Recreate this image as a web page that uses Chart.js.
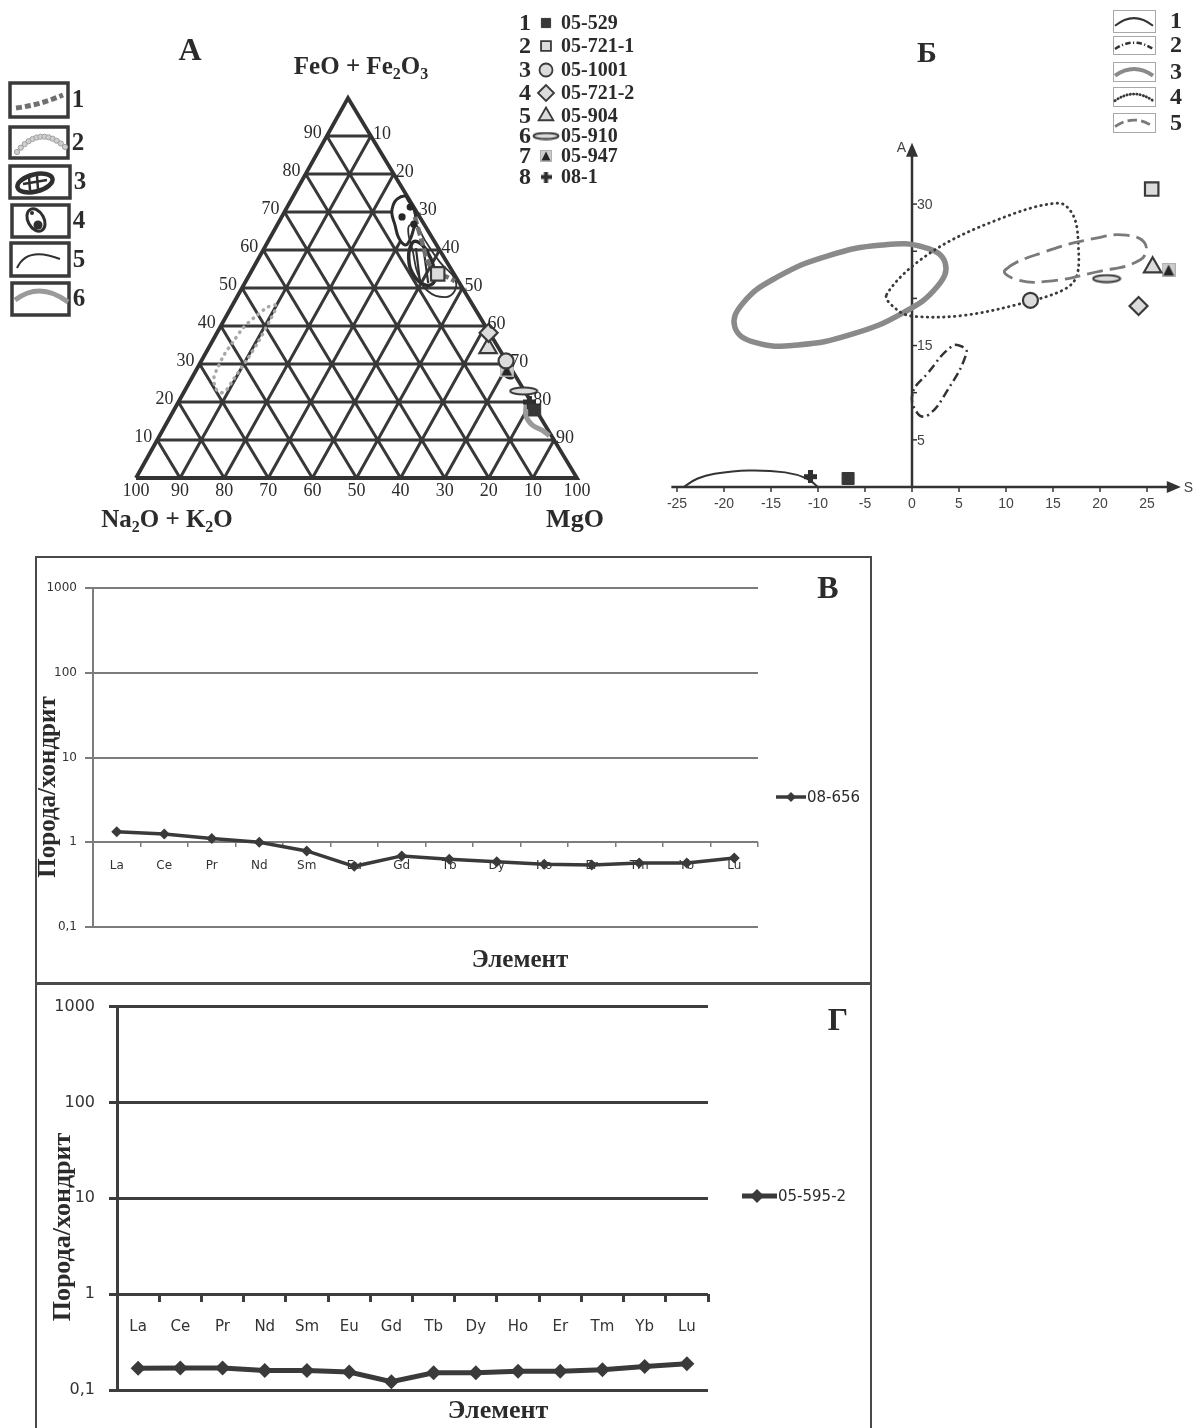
<!DOCTYPE html>
<html lang="ru">
<head>
<meta charset="utf-8">
<title>Диаграммы состава пород</title>
<script src="https://cdn.jsdelivr.net/npm/chart.js@4.4.1/dist/chart.umd.min.js"></script>
<style>
  html, body { margin: 0; padding: 0; background: #fff; }
  #sheet { position: relative; width: 1195px; height: 1428px; overflow: hidden; background: #fff; }
  .cell { position: absolute; }
  .cell canvas { display: block; }
  .frame { position: absolute; box-sizing: border-box; border: 2px solid #4a4a4a; }
</style>
</head>
<body>
<div id="sheet">
  <div class="frame" style="left:35px; top:556px; width:837px; height:429px;"></div>
  <div class="frame" style="left:35px; top:982px; width:837px; height:470px; border-top-width:3px;"></div>
  <div class="cell" style="left:0; top:0;"><canvas id="ternary" width="660" height="545"></canvas></div>
  <div class="cell" style="left:660px; top:0;"><canvas id="saPlot" width="535" height="545"></canvas></div>
  <div class="cell" style="left:36px; top:557px;"><canvas id="reeB" width="834" height="426"></canvas></div>
  <div class="cell" style="left:36px; top:983px;"><canvas id="reeG" width="834" height="445"></canvas></div>
</div>
<script>
// ---- образцы ----
const sampleNames = ['05-529', '05-721-1', '05-1001', '05-721-2', '05-904', '05-910', '05-947', '08-1'];
// А: FeO + Fe2O3 и MgO, % (остальное Na2O + K2O)
const feoTotal = [17.9, 53.7, 30.8, 38.2, 34.2, 22.9, 28.4, 20.0];
const mgoPct = [81.8, 42.6, 69.1, 61.6, 63.4, 76.9, 70.4, 79.6];
// Б: S и A
const sValues = [-6.8, 25.5, 12.6, 24.1, 25.6, 20.7, 27.3, -10.8];
const aValues = [0.9, 31.6, 19.8, 19.2, 23.3, 22.1, 23.0, 1.1];

// поля на треугольнике, пары [FeO+Fe2O3, MgO]
const fieldA1 = [[68.7, 30.2], [62.1, 35.0], [56.8, 38.9], [54.2, 41.9], [52.9, 45.1], [51.8, 47.4]];
const fieldA2 = [[45.5, 9.7], [45.0, 8.3], [42.4, 6.6], [39.5, 5.3], [35.8, 4.8], [32.4, 4.4], [28.7, 4.6], [26.6, 4.9],
  [23.7, 6.6], [22.4, 8.5], [23.4, 9.4], [25.8, 9.6], [31.1, 10.2], [35.8, 10.5], [41.6, 10.4], [44.2, 10.3]];
const fieldA3 = [[61.8, 32.9], [57.9, 34.0], [53.4, 37.3], [50.8, 41.1], [51.6, 42.8], [55.3, 41.0], [60.0, 37.0], [62.1, 34.1]];
const fieldA3Inner1 = [[60.5, 34.4], [52.1, 39.3]];
const fieldA3Inner2 = [[59.5, 36.7], [51.3, 41.6]];
const fieldA3Arc = [[30.3, 68.0], [27.1, 70.6], [26.3, 72.6], [27.1, 72.6]];
const fieldA4 = [[71.8, 23.8], [73.4, 23.9], [74.2, 25.3], [73.2, 26.5], [70.5, 29.2], [67.9, 30.8], [65.3, 31.5],
  [62.6, 32.0], [61.3, 31.6], [63.2, 29.2], [66.6, 26.7], [69.7, 24.5]];
const fieldA4Dots = [[68.7, 27.3], [71.3, 27.9], [66.8, 30.9]];
const fieldA5 = [[65.8, 30.1], [59.5, 34.2], [53.7, 38.1], [49.2, 42.5], [47.6, 47.2], [49.2, 48.6], [52.4, 47.1],
  [56.8, 41.6], [62.6, 35.4], [66.8, 31.2]];
const fieldA6 = [[19.5, 79.1], [16.3, 80.6], [13.9, 83.2], [12.6, 86.0], [11.1, 88.4]];

// поля на диаграмме S–A, пары [S, A]
const fieldB1 = [[-24.3, 0], [-22.8, 0.9], [-21.0, 1.4], [-17.4, 1.75], [-13.5, 1.55], [-11.2, 0.9], [-10.0, 0]];
const fieldB2 = [[0.05, 9.9], [0.6, 7.8], [1.7, 7.6], [3.8, 10.3], [5.8, 14.2], [5.3, 14.9], [4.2, 14.9], [1.7, 12.1]];
const fieldB3 = [[3.53, 23.76], [2.67, 21.23], [-0.96, 18.47], [-6.38, 16.2], [-12.15, 15.06], [-16.71, 15.33],
  [-18.85, 16.96], [-17.99, 19.49], [-14.36, 22.25], [-8.94, 24.52], [-3.17, 25.66], [1.39, 25.39]];
const fieldB4 = [[-2.7, 20.4], [1.9, 24.8], [9.0, 28.3], [15.6, 30.1], [17.2, 28.7], [17.7, 25.5], [17.5, 22.3],
  [16.1, 20.9], [11.8, 19.5], [5.5, 18.2], [0.1, 18.1], [-1.6, 18.8]];
const fieldB5 = [[9.9, 23.0], [14.3, 25.0], [19.6, 26.4], [22.8, 26.7], [24.8, 25.8], [24.3, 24.1], [19.6, 22.8],
  [14.3, 21.8], [11.1, 22.0]];

// шкалы
const ternaryTicks = [10, 20, 30, 40, 50, 60, 70, 80, 90];
const baseMgo = [0, 10, 20, 30, 40, 50, 60, 70, 80, 90, 100];
const baseLabels = [100, 90, 80, 70, 60, 50, 40, 30, 20, 10, 100];
const sTicks = [-25, -20, -15, -10, -5, 0, 5, 10, 15, 20, 25];
const aTicks = [5, 10, 15, 20, 25, 30];
const aTickLabels = [5, 15, 30];
const sAxisRange = [-25.6, 28.6];
const aAxisTop = 36.5;

// РЗЭ, нормированные на хондрит
const elements = ['La', 'Ce', 'Pr', 'Nd', 'Sm', 'Eu', 'Gd', 'Tb', 'Dy', 'Ho', 'Er', 'Tm', 'Yb', 'Lu'];
const ree08656 = [1.33, 1.25, 1.11, 1.0, 0.79, 0.52, 0.69, 0.63, 0.59, 0.55, 0.54, 0.57, 0.57, 0.65];
const ree055952 = [0.169, 0.17, 0.17, 0.16, 0.16, 0.154, 0.122, 0.151, 0.151, 0.157, 0.157, 0.163, 0.176, 0.188];
const logTicks = [0.1, 1, 10, 100, 1000];

const SERIF = '"Liberation Serif", "Times New Roman", serif';
const SANS = '"Liberation Sans", Arial, sans-serif';
const WIDE = '"DejaVu Sans", sans-serif';
const INK = '#2b2b2b';
const LINE = '#3a3a3a';
const FILL = '#dcdcdc';

// ---- значки образцов ----
function makeMark(w, h, paint) {
  const c = document.createElement('canvas');
  c.width = w; c.height = h;
  paint(c.getContext('2d'), w, h);
  return c;
}
const oval = (w, h) => makeMark(w, h, g => {
  g.beginPath();
  g.ellipse(w / 2, h / 2, w / 2 - 1.5, h / 2 - 1.5, 0, 0, Math.PI * 2);
  g.fillStyle = FILL; g.fill();
  g.lineWidth = 2; g.strokeStyle = LINE; g.stroke();
});
const boxedTriangle = s => makeMark(s, s, g => {
  g.fillStyle = '#cdcdcd'; g.fillRect(0, 0, s, s);
  g.strokeStyle = '#b0b0b0'; g.lineWidth = 1; g.strokeRect(0.5, 0.5, s - 1, s - 1);
  g.beginPath(); g.moveTo(s / 2, 1.5); g.lineTo(s - 1.5, s - 1.5); g.lineTo(1.5, s - 1.5); g.closePath();
  g.fillStyle = '#262626'; g.fill();
});
const plus = s => makeMark(s, s, g => {
  const t = Math.round(s * 0.4), o = (s - t) / 2;
  g.fillStyle = '#2f2f2f';
  g.fillRect(o, 0, t, s); g.fillRect(0, o, s, t);
});

const hollow = { pointBackgroundColor: FILL, pointBorderColor: LINE, pointBorderWidth: 2.2 };
const plotMarks = [
  { pointStyle: 'rect', pointRadius: 8.5, pointBackgroundColor: '#383838', pointBorderColor: '#383838', pointBorderWidth: 1 },
  { pointStyle: 'rect', pointRadius: 9.5, ...hollow },
  { pointStyle: 'circle', pointRadius: 7.5, ...hollow },
  { pointStyle: 'rectRot', pointRadius: 9, ...hollow },
  { pointStyle: 'triangle', pointRadius: 10, ...hollow },
  { pointStyle: oval(30, 10), pointRadius: 5 },
  { pointStyle: boxedTriangle(14), pointRadius: 5 },
  { pointStyle: plus(13), pointRadius: 5 }
];
const keyMarks = [
  { pointStyle: 'rect', pointRadius: 6.5, pointBackgroundColor: '#383838', pointBorderColor: '#383838', pointBorderWidth: 1 },
  { pointStyle: 'rect', pointRadius: 7, ...hollow, pointBorderWidth: 1.8 },
  { pointStyle: 'circle', pointRadius: 6.5, ...hollow, pointBorderWidth: 1.8 },
  { pointStyle: 'rectRot', pointRadius: 8, ...hollow, pointBorderWidth: 1.8 },
  { pointStyle: 'triangle', pointRadius: 8.5, ...hollow, pointBorderWidth: 1.8 },
  { pointStyle: oval(28, 9), pointRadius: 5 },
  { pointStyle: boxedTriangle(12), pointRadius: 5 },
  { pointStyle: plus(11), pointRadius: 5 }
];

function drawMark(ctx, m, x, y) {
  ctx.fillStyle = m.pointBackgroundColor || '#000';
  ctx.strokeStyle = m.pointBorderColor || '#000';
  ctx.lineWidth = m.pointBorderWidth || 1;
  Chart.helpers.drawPoint(ctx, { pointStyle: m.pointStyle, radius: m.pointRadius, rotation: 0, borderWidth: m.pointBorderWidth || 0 }, x, y);
}

// ---- линии полей ----
function wrapLoop(pts) {
  const n = pts.length;
  return [pts[n - 1], ...pts, pts[0], pts[1]];
}
function pathSet(label, pts, look, closed) {
  const data = closed ? wrapLoop(pts) : pts;
  const last = data.length - 2;
  const ds = {
    label, data, showLine: true, pointRadius: 0, tension: look.tension ?? 0.45,
    borderColor: look.color, borderWidth: look.width, borderDash: look.dash || [],
    borderCapStyle: look.cap || 'butt', borderJoinStyle: 'round',
    fill: look.fill ? 'shape' : false, backgroundColor: look.fill || 'rgba(0,0,0,0)'
  };
  if (closed) {
    // крайние отрезки нужны только для гладкого замыкания
    ds.segment = { borderColor: c => (c.p0DataIndex === 0 || c.p0DataIndex === last) ? 'rgba(0,0,0,0)' : undefined };
  }
  return ds;
}

const baseOptions = {
  responsive: false, animation: false, devicePixelRatio: 1, events: [],
  layout: { padding: 0, autoPadding: false },
  plugins: { legend: { display: false }, tooltip: { enabled: false } }
};

// ================= А: треугольник =================
// нижний левый угол (136, 478), правый — 577, вершина смещена к x = 348
const TRI = { left: 136, base: 478, side: 441, height: 380, apex: 348, w: 660, h: 545 };
const skew = (TRI.apex - TRI.left) / TRI.side;
const toTern = ([fe, mg]) => ({ x: mg + fe * skew, y: fe });
const gap = { x: NaN, y: NaN };

const gridA = [];
ternaryTicks.forEach(k => {
  gridA.push(toTern([k, 0]), toTern([k, 100 - k]), gap);
  gridA.push(toTern([0, k]), toTern([100 - k, k]), gap);
  gridA.push(toTern([0, 100 - k]), toTern([100 - k, 0]), gap);
});
const frameA = [toTern([0, 0]), toTern([0, 100]), toTern([100, 0]), toTern([0, 0])];

function drawRich(ctx, parts, cx, baseY, size) {
  const main = `bold ${size}px ${SERIF}`, sub = `bold ${Math.round(size * 0.62)}px ${SERIF}`;
  let total = 0;
  parts.forEach(([t, s]) => { ctx.font = s ? sub : main; total += ctx.measureText(t).width; });
  let xx = cx - total / 2;
  ctx.textAlign = 'left'; ctx.textBaseline = 'alphabetic';
  parts.forEach(([t, s]) => {
    ctx.font = s ? sub : main;
    ctx.fillText(t, xx, baseY + (s ? size * 0.2 : 0));
    xx += ctx.measureText(t).width;
  });
}

const ternaryDecor = {
  id: 'ternaryDecor',
  afterDraw(chart) {
    const { ctx, scales: { x, y } } = chart;
    const at = p => [x.getPixelForValue(p.x), y.getPixelForValue(p.y)];
    ctx.save();
    ctx.fillStyle = INK;
    ctx.font = `18px ${SERIF}`;
    ctx.textBaseline = 'middle';
    ternaryTicks.forEach(k => {
      let [lx, ly] = at(toTern([k, 0]));
      ctx.textAlign = 'right';
      ctx.fillText(String(k), lx - 5, ly - 3);
      [lx, ly] = at(toTern([100 - k, k]));
      ctx.textAlign = 'left';
      ctx.fillText(String(k), lx + 2, ly - 2);
    });
    ctx.textAlign = 'center';
    baseMgo.forEach((m, i) => {
      const [lx, ly] = at(toTern([0, m]));
      ctx.fillText(String(baseLabels[i]), lx, ly + 13);
    });

    ctx.fillStyle = INK;
    ctx.font = `bold 32px ${SERIF}`; ctx.textAlign = 'center'; ctx.textBaseline = 'alphabetic';
    ctx.fillText('А', 190, 60);
    drawRich(ctx, [['FeO + Fe', 0], ['2', 1], ['O', 0], ['3', 1]], 361, 74, 25);
    drawRich(ctx, [['Na', 0], ['2', 1], ['O + K', 0], ['2', 1], ['O', 0]], 167, 527, 25);
    drawRich(ctx, [['MgO', 0]], 575, 527, 26);

    // образцы
    const rows = [23, 46, 70, 93, 116, 136, 156, 177];
    sampleNames.forEach((name, i) => {
      const yy = rows[i];
      ctx.fillStyle = INK; ctx.textBaseline = 'middle';
      ctx.font = `bold 24px ${SERIF}`; ctx.textAlign = 'center';
      ctx.fillText(String(i + 1), 525, yy + 1);
      drawMark(ctx, keyMarks[i], 546, yy);
      ctx.fillStyle = INK;
      ctx.font = `bold 20px ${SERIF}`; ctx.textAlign = 'left';
      ctx.fillText(name, 561, yy + 1);
    });

    // условные обозначения полей
    const boxes = [[10, 83, 58, 34], [10, 127, 58, 31], [10, 166, 60, 32], [12, 205, 57, 32], [11, 243, 58, 33], [12, 283, 57, 32]];
    ctx.lineWidth = 3.5; ctx.strokeStyle = '#3a3a3a';
    boxes.forEach(([bx, by, bw, bh], i) => {
      ctx.strokeRect(bx, by, bw, bh);
      ctx.fillStyle = INK; ctx.font = `bold 25px ${SERIF}`; ctx.textAlign = 'center'; ctx.textBaseline = 'middle';
      ctx.fillText(String(i + 1), bx + bw + 10, by + bh / 2 + 1);
    });
    ctx.lineCap = 'butt';
    ctx.setLineDash([6, 3]); ctx.lineWidth = 5; ctx.strokeStyle = '#707070';
    ctx.beginPath(); ctx.moveTo(16, 108); ctx.quadraticCurveTo(40, 105, 63, 95); ctx.stroke();
    ctx.setLineDash([]);
    for (let i = 0; i <= 12; i++) {
      const t = i / 12, u = 1 - t;
      const cx = u * u * 17 + 2 * u * t * 40 + t * t * 65;
      const cy = u * u * 152 + 2 * u * t * 124 + t * t * 147;
      ctx.beginPath(); ctx.arc(cx, cy, 2.6, 0, Math.PI * 2);
      ctx.fillStyle = '#cfcfcf'; ctx.fill(); ctx.lineWidth = 1; ctx.strokeStyle = '#a0a0a0'; ctx.stroke();
    }
    ctx.strokeStyle = '#2f2f2f';
    ctx.lineWidth = 4.5;
    ctx.beginPath(); ctx.ellipse(35, 183, 18, 8.5, -0.25, 0, Math.PI * 2); ctx.stroke();
    ctx.lineWidth = 2.5;
    ctx.beginPath();
    ctx.moveTo(29, 177); ctx.lineTo(30, 190); ctx.moveTo(37, 176); ctx.lineTo(38, 189); ctx.moveTo(23, 184); ctx.lineTo(47, 180);
    ctx.stroke();
    ctx.lineWidth = 3;
    ctx.beginPath(); ctx.ellipse(36, 220, 8, 12, -0.5, 0, Math.PI * 2); ctx.stroke();
    ctx.fillStyle = '#2f2f2f';
    ctx.beginPath(); ctx.arc(38, 225, 4.5, 0, Math.PI * 2); ctx.fill();
    ctx.beginPath(); ctx.arc(32, 213, 2, 0, Math.PI * 2); ctx.fill();
    ctx.lineWidth = 2;
    ctx.beginPath(); ctx.moveTo(17, 268); ctx.quadraticCurveTo(27, 246, 60, 259); ctx.stroke();
    ctx.lineWidth = 5; ctx.strokeStyle = '#9a9a9a';
    ctx.beginPath(); ctx.moveTo(15, 300); ctx.quadraticCurveTo(40, 281, 68, 302); ctx.stroke();
    ctx.restore();
  }
};

const samplesA = sampleNames.map((name, i) => ({
  label: name, data: [toTern([feoTotal[i], mgoPct[i]])], ...plotMarks[i]
}));

new Chart(document.getElementById('ternary'), {
  type: 'scatter',
  data: {
    datasets: [
      ...samplesA,
      { label: 'поле 4, точки', data: fieldA4Dots.map(toTern), pointRadius: 3.6, pointBackgroundColor: '#262626', pointBorderWidth: 0 },
      pathSet('поле 2', fieldA2.map(toTern), { color: '#a8a8a8', width: 3.5, dash: [0.5, 6], cap: 'round', tension: 0.3 }, true),
      pathSet('поле 1', fieldA1.map(toTern), { color: '#6f6f6f', width: 4.5, dash: [8, 3], tension: 0.3 }, false),
      pathSet('поле 3, дуга', fieldA3Arc.map(toTern), { color: '#303030', width: 3, tension: 0.4 }, false),
      pathSet('поле 3, штрих', fieldA3Inner1.map(toTern), { color: '#303030', width: 2.2, tension: 0 }, false),
      pathSet('поле 3, штрих 2', fieldA3Inner2.map(toTern), { color: '#303030', width: 2.2, tension: 0 }, false),
      pathSet('поле 3', fieldA3.map(toTern), { color: '#2c2c2c', width: 3.5 }, true),
      pathSet('поле 5', fieldA5.map(toTern), { color: '#333', width: 1.8 }, true),
      pathSet('поле 6', fieldA6.map(toTern), { color: '#9a9a9a', width: 5, tension: 0.4 }, false),
      pathSet('поле 4', fieldA4.map(toTern), { color: '#2c2c2c', width: 3, fill: '#ffffff' }, true),
      { label: 'рамка', data: frameA, showLine: true, pointRadius: 0, tension: 0, borderColor: '#333', borderWidth: 3.8, borderJoinStyle: 'miter' },
      { label: 'сетка', data: gridA, showLine: true, pointRadius: 0, tension: 0, borderColor: '#383838', borderWidth: 3 }
    ]
  },
  options: {
    ...baseOptions,
    scales: {
      x: { type: 'linear', display: false, min: -TRI.left / TRI.side * 100, max: (TRI.w - TRI.left) / TRI.side * 100 },
      y: { type: 'linear', display: false, min: -(TRI.h - TRI.base) / TRI.height * 100, max: TRI.base / TRI.height * 100 }
    }
  },
  plugins: [ternaryDecor]
});

// ================= Б: S–A =================
const SA = { zeroX: 252, zeroY: 487, perS: 9.4, perA: 9.43, w: 535, h: 545 };
const fieldLookB = [
  { color: '#333', width: 2 },
  { color: '#333', width: 2.5, dash: [9, 4, 2, 4] },
  { color: '#8a8a8a', width: 5.5 },
  { color: '#3a3a3a', width: 2.8, dash: [0.5, 5], cap: 'round' },
  { color: '#7a7a7a', width: 2.8, dash: [16, 7] }
];
const toSA = ([s, a]) => ({ x: s, y: a });

const saDecor = {
  id: 'saDecor',
  beforeDatasetsDraw(chart) {
    const { ctx, scales: { x, y } } = chart;
    const x0 = x.getPixelForValue(0), y0 = y.getPixelForValue(0);
    const xs = x.getPixelForValue(sAxisRange[0]), xe = x.getPixelForValue(sAxisRange[1]);
    const ye = y.getPixelForValue(aAxisTop);
    ctx.save();
    ctx.strokeStyle = '#333'; ctx.fillStyle = '#333'; ctx.lineWidth = 2.5;
    ctx.beginPath();
    ctx.moveTo(xs, y0); ctx.lineTo(xe - 8, y0);
    ctx.moveTo(x0, y0); ctx.lineTo(x0, ye + 8);
    ctx.stroke();
    ctx.beginPath(); ctx.moveTo(xe, y0); ctx.lineTo(xe - 14, y0 - 6); ctx.lineTo(xe - 14, y0 + 6); ctx.closePath(); ctx.fill();
    ctx.beginPath(); ctx.moveTo(x0, ye); ctx.lineTo(x0 - 6, ye + 14); ctx.lineTo(x0 + 6, ye + 14); ctx.closePath(); ctx.fill();
    ctx.lineWidth = 1.5;
    ctx.fillStyle = '#444';
    ctx.font = `14px ${SANS}`;
    ctx.textAlign = 'center'; ctx.textBaseline = 'top';
    sTicks.forEach(v => {
      const p = x.getPixelForValue(v);
      ctx.beginPath(); ctx.moveTo(p, y0); ctx.lineTo(p, y0 + 5); ctx.stroke();
      ctx.fillText(String(v), p, y0 + 10);
    });
    aTicks.forEach(v => {
      const p = y.getPixelForValue(v);
      ctx.beginPath(); ctx.moveTo(x0, p); ctx.lineTo(x0 + 5, p); ctx.stroke();
    });
    ctx.textAlign = 'left'; ctx.textBaseline = 'middle';
    aTickLabels.forEach(v => ctx.fillText(String(v), x0 + 5, y.getPixelForValue(v) + 1));
    ctx.fillText('S', xe + 3, y0 + 1);
    ctx.textAlign = 'right';
    ctx.fillText('A', x0 - 6, ye + 5);
    ctx.restore();
  },
  afterDraw(chart) {
    const { ctx } = chart;
    ctx.save();
    ctx.fillStyle = INK;
    ctx.font = `bold 30px ${SERIF}`; ctx.textAlign = 'center'; ctx.textBaseline = 'alphabetic';
    ctx.fillText('Б', 267, 62);
    const rows = [[10, 22], [36, 18], [62, 19], [87, 19], [113, 19]];
    rows.forEach(([by, bh], i) => {
      const bx = 453, bw = 42, look = fieldLookB[i];
      ctx.setLineDash([]); ctx.lineWidth = 1; ctx.strokeStyle = '#a8a8a8';
      ctx.strokeRect(bx + 0.5, by + 0.5, bw, bh);
      ctx.strokeStyle = look.color; ctx.lineWidth = Math.min(look.width, 4);
      ctx.setLineDash(look.dash ? look.dash.map(d => d * 0.6) : []);
      ctx.lineCap = look.cap || 'butt';
      ctx.beginPath();
      ctx.moveTo(bx + 2, by + bh * 0.72);
      ctx.quadraticCurveTo(bx + bw / 2, by + bh * 0.02, bx + bw - 2, by + bh * 0.72);
      ctx.stroke();
      ctx.setLineDash([]);
      ctx.fillStyle = INK; ctx.font = `bold 24px ${SERIF}`; ctx.textAlign = 'center'; ctx.textBaseline = 'middle';
      ctx.fillText(String(i + 1), 516, by + bh / 2 + 1);
    });
    ctx.restore();
  }
};

const samplesB = sampleNames.map((name, i) => ({
  label: name, data: [{ x: sValues[i], y: aValues[i] }], ...plotMarks[i]
}));

new Chart(document.getElementById('saPlot'), {
  type: 'scatter',
  data: {
    datasets: [
      ...samplesB,
      pathSet('поле 1', fieldB1.map(toSA), { ...fieldLookB[0], tension: 0.4 }, false),
      pathSet('поле 2', fieldB2.map(toSA), fieldLookB[1], true),
      pathSet('поле 5', fieldB5.map(toSA), fieldLookB[4], true),
      pathSet('поле 4', fieldB4.map(toSA), { ...fieldLookB[3], tension: 0.35 }, true),
      pathSet('поле 3', fieldB3.map(toSA), fieldLookB[2], true)
    ]
  },
  options: {
    ...baseOptions,
    scales: {
      x: { type: 'linear', display: false, min: -SA.zeroX / SA.perS, max: (SA.w - SA.zeroX) / SA.perS },
      y: { type: 'linear', display: false, min: -(SA.h - SA.zeroY) / SA.perA, max: SA.zeroY / SA.perA }
    }
  },
  plugins: [saDecor]
});

// ================= В, Г: спектры РЗЭ =================
function reeDecor(look) {
  return {
    id: 'reeDecor',
    afterDraw(chart) {
      const { ctx } = chart;
      const ds = chart.data.datasets[0];
      ctx.save();
      ctx.fillStyle = INK;
      ctx.font = `bold ${look.titleSize}px ${SERIF}`;
      ctx.textAlign = 'center'; ctx.textBaseline = 'middle';
      ctx.save();
      ctx.translate(look.yTitle[0], look.yTitle[1]);
      ctx.rotate(-Math.PI / 2);
      ctx.fillText('Порода/хондрит', 0, 0);
      ctx.restore();
      ctx.fillText('Элемент', look.xTitle[0], look.xTitle[1]);
      ctx.font = `bold 32px ${SERIF}`;
      ctx.fillText(look.letter, look.letterAt[0], look.letterAt[1]);

      const k = look.key;
      ctx.strokeStyle = ds.borderColor; ctx.lineWidth = ds.borderWidth;
      ctx.beginPath(); ctx.moveTo(k.x1, k.y); ctx.lineTo(k.x2, k.y); ctx.stroke();
      ctx.fillStyle = ds.pointBackgroundColor;
      Chart.helpers.drawPoint(ctx, { pointStyle: 'rectRot', radius: k.r, rotation: 0, borderWidth: 0 }, k.xm, k.y);
      ctx.fillStyle = INK;
      ctx.font = `${k.font}px ${WIDE}`; ctx.textAlign = 'left';
      ctx.fillText(ds.label, k.xt, k.y + 1);
      ctx.restore();
    }
  };
}

function reeChart(id, series, label, look) {
  return new Chart(document.getElementById(id), {
    type: 'line',
    data: {
      labels: elements,
      datasets: [{
        label, data: series, borderColor: LINE, borderWidth: look.line, tension: 0,
        pointStyle: 'rectRot', pointRadius: look.point, pointBackgroundColor: LINE, pointBorderColor: LINE, pointBorderWidth: 0
      }]
    },
    options: {
      ...baseOptions,
      layout: { autoPadding: false, padding: look.padding },
      scales: {
        x: {
          type: 'category', offset: true, position: { y: 1 },
          grid: { offset: true, drawOnChartArea: false, drawTicks: true, tickLength: look.xTick, color: look.grid, lineWidth: look.xTickWidth },
          border: { display: false },
          ticks: { padding: look.xPad, color: '#333', font: { family: WIDE, size: look.font }, maxRotation: 0, autoSkip: false }
        },
        y: {
          type: 'logarithmic', min: 0.1, max: 1000,
          afterFit: s => { s.width = look.yWidth; },
          afterBuildTicks: s => { s.ticks = logTicks.map(v => ({ value: v })); },
          grid: { color: look.grid, lineWidth: look.gridWidth, tickLength: 8 },
          border: { color: look.grid, width: look.gridWidth },
          ticks: { padding: look.yPad, color: '#333', font: { family: WIDE, size: look.yFont }, callback: v => String(v).replace('.', ',') }
        }
      }
    },
    plugins: [reeDecor(look)]
  });
}

reeChart('reeB', ree08656, '08-656', {
  padding: { top: 31, right: 112, bottom: 56, left: 0 }, yWidth: 57,
  grid: '#7c7c7c', gridWidth: 2, xTick: 5, xTickWidth: 1.5, xPad: 11, yPad: 8,
  font: 12, yFont: 12, line: 3.5, point: 5.5,
  titleSize: 25, yTitle: [13, 230], xTitle: [484, 404], letter: 'В', letterAt: [792, 33],
  key: { x1: 740, x2: 770, xm: 755, y: 240, r: 5, xt: 771, font: 15 }
});

reeChart('reeG', ree055952, '05-595-2', {
  padding: { top: 20, right: 162, bottom: 38, left: 0 }, yWidth: 81,
  grid: '#3d3d3d', gridWidth: 3, xTick: 8, xTickWidth: 3, xPad: 16, yPad: 14,
  font: 15, yFont: 16, line: 5, point: 7.5,
  titleSize: 26, yTitle: [27, 244], xTitle: [462, 428], letter: 'Г', letterAt: [802, 39],
  key: { x1: 706, x2: 741, xm: 721, y: 213, r: 7, xt: 742, font: 15 }
});
</script>
</body>
</html>
